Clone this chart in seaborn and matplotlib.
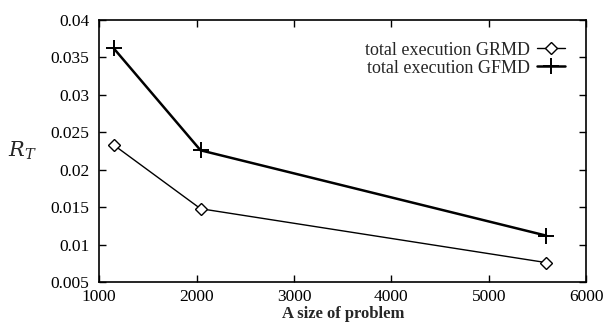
import pandas as pd
import matplotlib
matplotlib.use("Agg")
import matplotlib.pyplot as plt
import seaborn as sns

# Values
sizes = [1150, 2040, 5590]
grmd = [0.0233, 0.0148, 0.0076]
gfmd = [0.0362, 0.0226, 0.0112]
x_ticks = [1000, 2000, 3000, 4000, 5000, 6000]
y_ticks = [0.005, 0.01, 0.015, 0.02, 0.025, 0.03, 0.035, 0.04]
y_tick_labels = ["0.005", "0.01", "0.015", "0.02", "0.025", "0.03", "0.035", "0.04"]

data = pd.DataFrame({"size": sizes, "GRMD": grmd, "GFMD": gfmd})

sns.set_theme(style="ticks")
plt.rcParams["font.family"] = ["Liberation Serif", "DejaVu Serif"]
plt.rcParams["mathtext.fontset"] = "dejavuserif"

fig = plt.figure(figsize=(6.05, 3.28), dpi=100)
ax = fig.add_axes([0.164, 0.140, 0.805, 0.799])

sns.lineplot(data=data, x="size", y="GRMD", ax=ax, color="black", linewidth=1.0,
             marker="D", markersize=6, markerfacecolor="white", markeredgecolor="black",
             markeredgewidth=1.0, label="total execution GRMD")
sns.lineplot(data=data, x="size", y="GFMD", ax=ax, color="black", linewidth=1.8,
             marker="+", markersize=11, markeredgewidth=1.4, markeredgecolor="black",
             label="total execution GFMD")

ax.set_xlim(1000, 6000)
ax.set_ylim(0.005, 0.04)
ax.set_xticks(x_ticks)
ax.set_yticks(y_ticks)
ax.set_yticklabels(y_tick_labels)
ax.tick_params(direction="in", top=True, right=True, length=5, width=1,
               labelsize=12.5, colors="black")
ax.tick_params(axis="x", pad=5)
ax.tick_params(axis="y", pad=7)
for s in ax.spines.values():
    s.set_linewidth(1.2)
    s.set_color("black")

ax.set_xlabel("A size of problem", fontsize=12, fontweight="bold", labelpad=1)
ax.set_ylabel("$R_T$", fontsize=15, rotation=0)
ax.yaxis.set_label_coords(-0.158, 0.46)

ax.legend(loc="upper right", frameon=False, markerfirst=False, fontsize=13,
          handlelength=1.5, borderaxespad=0.8, labelspacing=0.05, handletextpad=0.4)

fig.savefig("out.png", dpi=100)
